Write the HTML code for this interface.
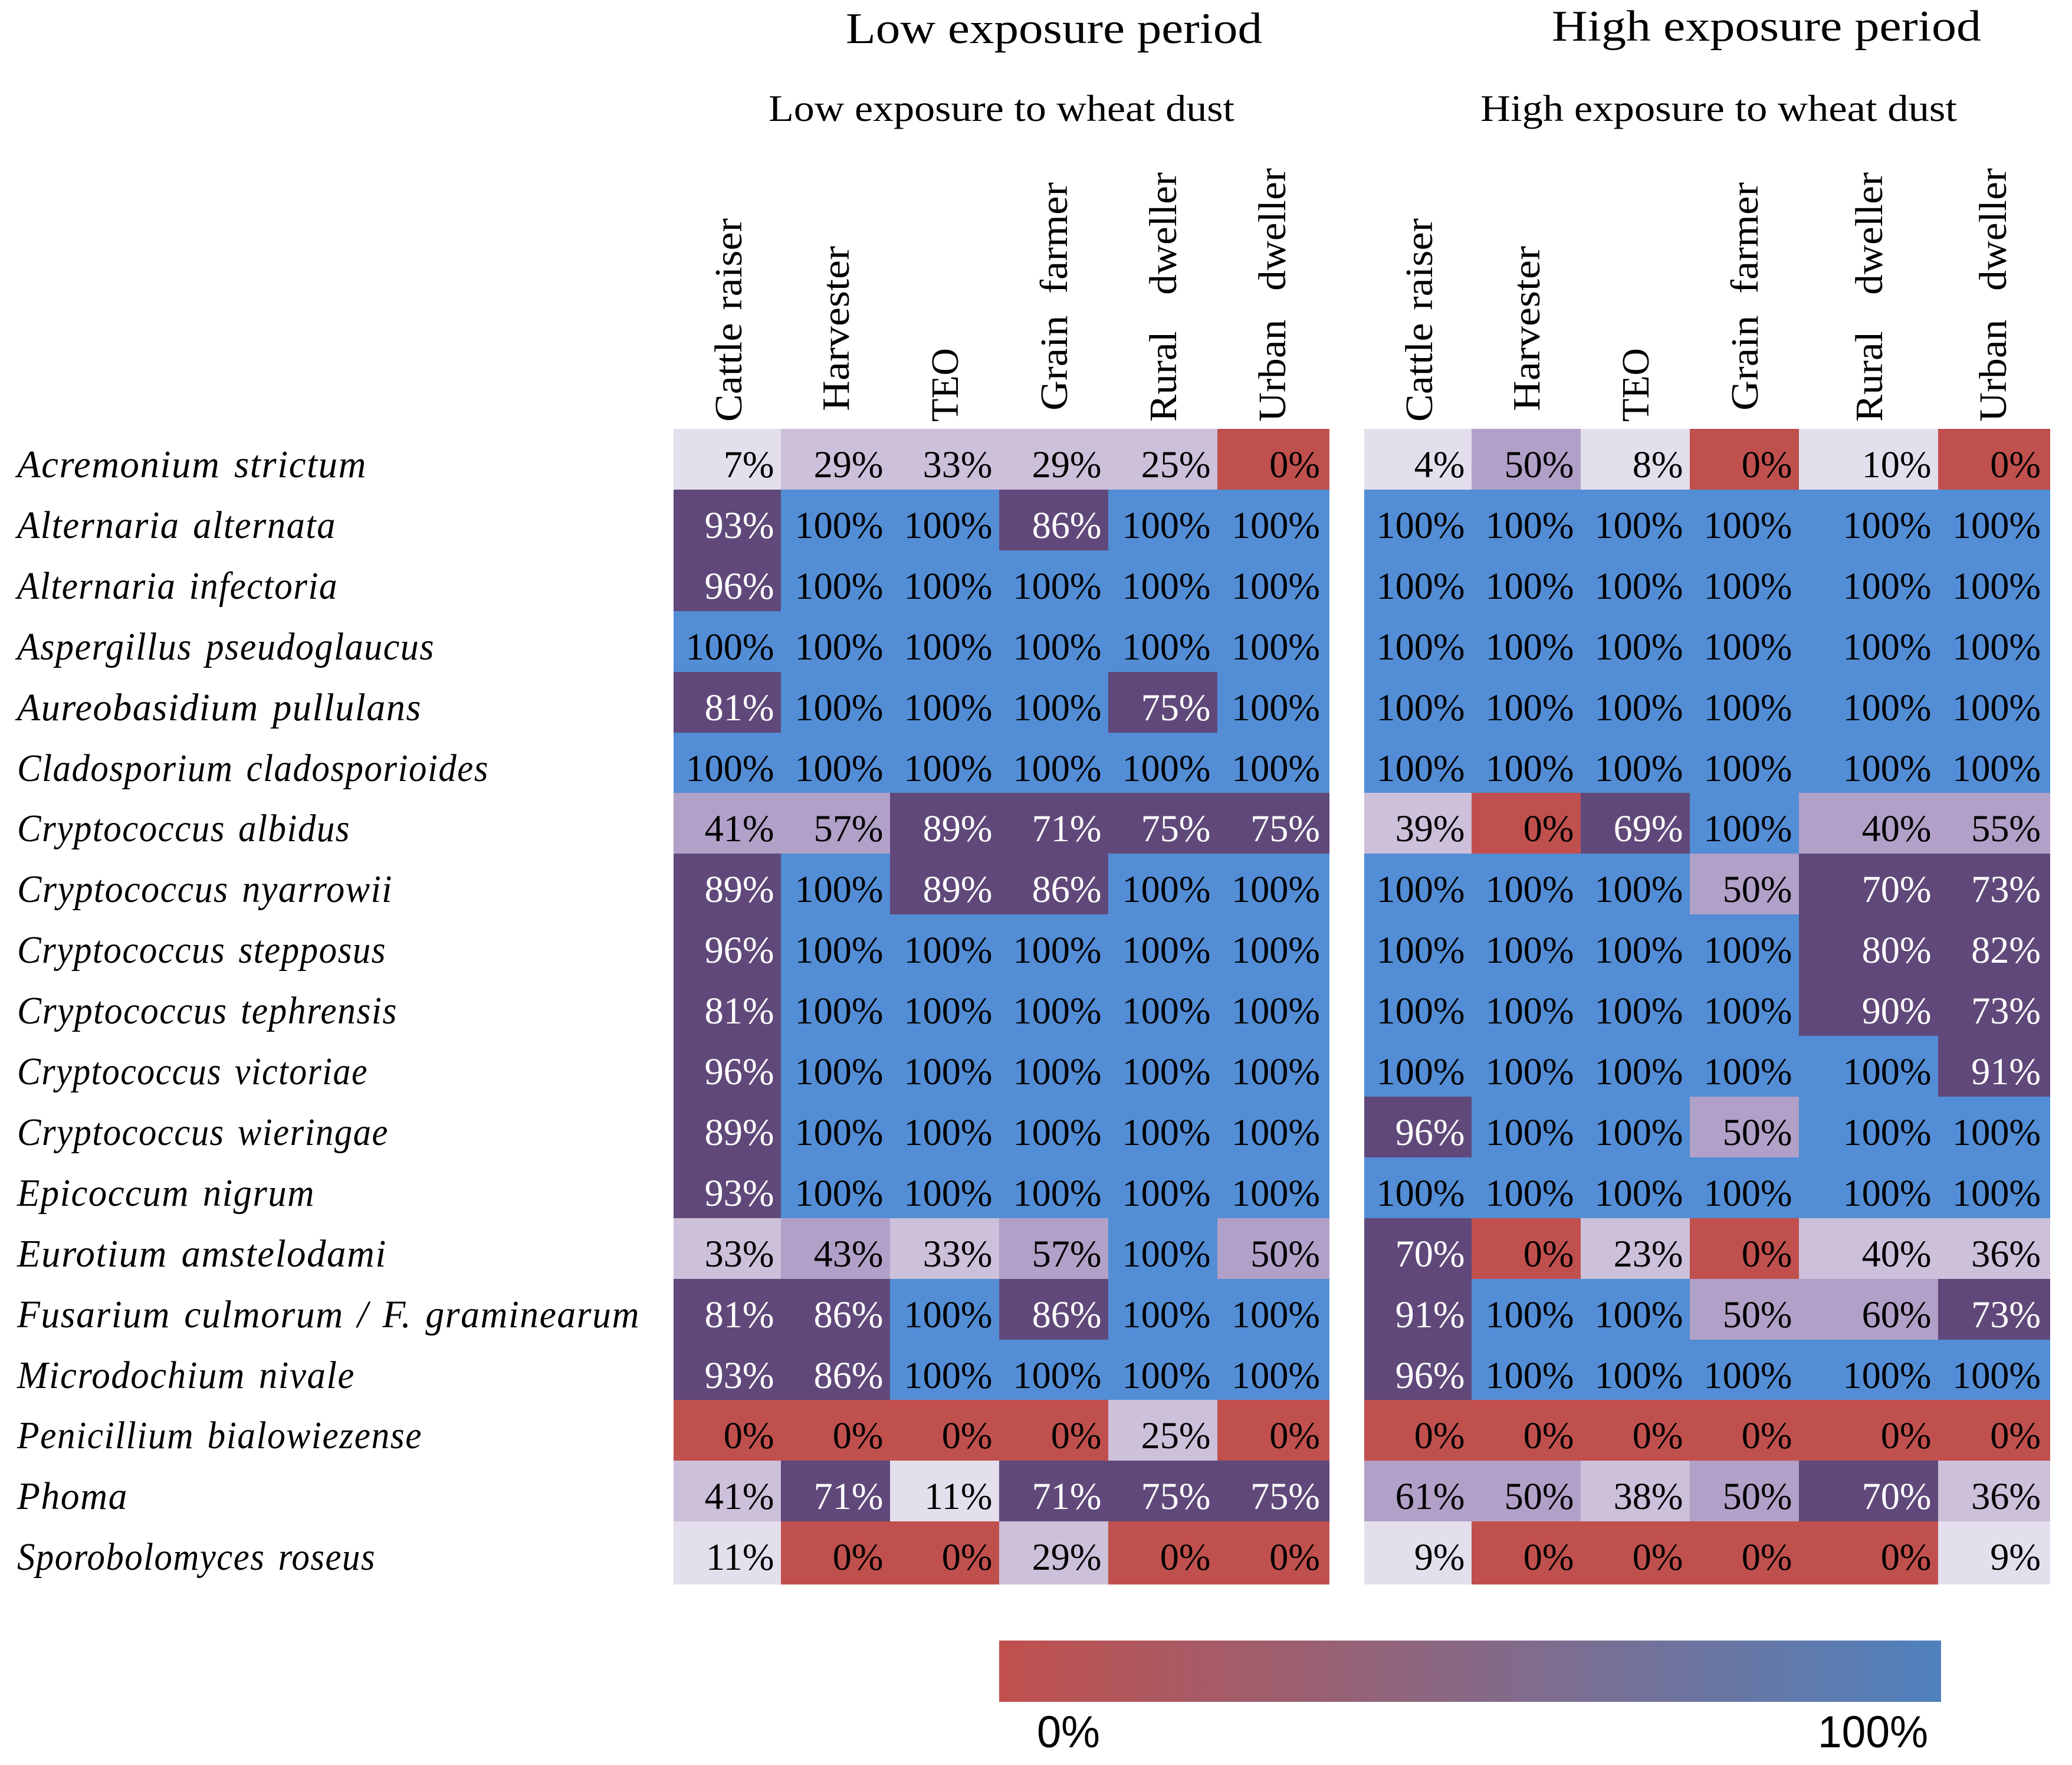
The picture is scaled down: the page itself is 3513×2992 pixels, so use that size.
<!DOCTYPE html>
<html lang="en">
<head>
<meta charset="utf-8">
<title>Fungal species prevalence heatmap</title>
<style>
html,body{margin:0;padding:0;background:#fff;}
svg{display:block;}
text{font-family:"Liberation Serif",serif;fill:#000;}
.row-label{font-style:italic;font-size:66px;}
.bar-label{font-family:"Liberation Sans",sans-serif;font-size:76px;}
</style>
</head>
<body>
<svg id="chart" xmlns="http://www.w3.org/2000/svg" width="3513" height="2992" viewBox="0 0 3513 2992">
  <defs>
    <linearGradient id="scale-gradient" x1="0" x2="1" y1="0" y2="0">
      <stop offset="0" stop-color="#C0504D"/>
      <stop offset="1" stop-color="#4F81BD"/>
    </linearGradient>
  </defs>
  <rect x="0" y="0" width="3513" height="2992" fill="#ffffff"/>
  <text x="1434" y="73" font-size="74" textLength="706" lengthAdjust="spacingAndGlyphs">Low exposure period</text>
  <text x="2631" y="69" font-size="74" textLength="728" lengthAdjust="spacingAndGlyphs">High exposure period</text>
  <text x="1303" y="205" font-size="64" textLength="790" lengthAdjust="spacingAndGlyphs">Low exposure to wheat dust</text>
  <text x="2510" y="205" font-size="64" textLength="808" lengthAdjust="spacingAndGlyphs">High exposure to wheat dust</text>
  <g id="headers"></g>
  <g id="row-labels"></g>
  <g id="cells"></g>
  <g id="values"></g>
  <rect x="1694" y="2781" width="1597" height="104" fill="url(#scale-gradient)"/>
  <text class="bar-label" x="1758" y="2962" textLength="107" lengthAdjust="spacingAndGlyphs">0%</text>
  <text class="bar-label" x="3082" y="2962" textLength="187" lengthAdjust="spacingAndGlyphs">100%</text>
</svg>
<script>
const species = [
  'Acremonium strictum','Alternaria alternata','Alternaria infectoria','Aspergillus pseudoglaucus',
  'Aureobasidium pullulans','Cladosporium cladosporioides','Cryptococcus albidus','Cryptococcus nyarrowii',
  'Cryptococcus stepposus','Cryptococcus tephrensis','Cryptococcus victoriae','Cryptococcus wieringae',
  'Epicoccum nigrum','Eurotium amstelodami','Fusarium culmorum / F. graminearum','Microdochium nivale',
  'Penicillium bialowiezense','Phoma','Sporobolomyces roseus'
];
const occupations = ['Cattle raiser','Harvester','TEO','Grain farmer','Rural dweller','Urban dweller'];
const lowExposure = [
  [7,29,33,29,25,0],
  [93,100,100,86,100,100],
  [96,100,100,100,100,100],
  [100,100,100,100,100,100],
  [81,100,100,100,75,100],
  [100,100,100,100,100,100],
  [41,57,89,71,75,75],
  [89,100,89,86,100,100],
  [96,100,100,100,100,100],
  [81,100,100,100,100,100],
  [96,100,100,100,100,100],
  [89,100,100,100,100,100],
  [93,100,100,100,100,100],
  [33,43,33,57,100,50],
  [81,86,100,86,100,100],
  [93,86,100,100,100,100],
  [0,0,0,0,25,0],
  [41,71,11,71,75,75],
  [11,0,0,29,0,0]
];
const highExposure = [
  [4,50,8,0,10,0],
  [100,100,100,100,100,100],
  [100,100,100,100,100,100],
  [100,100,100,100,100,100],
  [100,100,100,100,100,100],
  [100,100,100,100,100,100],
  [39,0,69,100,40,55],
  [100,100,100,50,70,73],
  [100,100,100,100,80,82],
  [100,100,100,100,90,73],
  [100,100,100,100,100,91],
  [96,100,100,50,100,100],
  [100,100,100,100,100,100],
  [70,0,23,0,40,36],
  [91,100,100,50,60,73],
  [96,100,100,100,100,100],
  [0,0,0,0,0,0],
  [61,50,38,50,70,36],
  [9,0,0,0,0,9]
];

/* Layout: axis functions and text fitting only. */
const SVG_NS = 'http://www.w3.org/2000/svg';
const ROW_TOP = 727, ROW_STEP = 102.9, LAST_ROW_EXTRA = 4, BASELINE = 82;
function rowTop(r){ return Math.round(ROW_TOP + ROW_STEP * r); }
function rowBottom(r){ return r === species.length - 1 ? rowTop(r + 1) + LAST_ROW_EXTRA : rowTop(r + 1); }
function columnWidth(panel, c){
  if (c === 0) return 182;
  if (c === 5) return 190;
  if (panel === 'high' && c === 4) return 236;
  return 185;
}
function columnLeft(panel, c){
  let x = panel === 'low' ? 1142 : 2313;
  for (let i = 0; i < c; i++) x += columnWidth(panel, i);
  return x;
}
function valueRight(panel, c){
  return columnLeft(panel, c) + columnWidth(panel, c) - (c === 5 ? 16 : 11.5);
}
function headerBaseline(panel, c){
  return columnLeft(panel, c) + (panel === 'high' && c === 4 ? 141 : 115);
}
const headerBottom = {'Cattle raiser':715,'Harvester':697,'TEO':715,'Grain farmer':696,'Rural dweller':715,'Urban dweller':715};
const headerLength = {'Cattle raiser':345,'Harvester':280,'TEO':125,'Grain farmer':387,'Rural dweller':423,'Urban dweller':430};
const headerGap = {'Cattle raiser':4,'Harvester':0,'TEO':0,'Grain farmer':18,'Rural dweller':42,'Urban dweller':30};
const labelFitWidth = {
  'Acremonium strictum':593,'Alternaria alternata':541,'Alternaria infectoria':544,'Aspergillus pseudoglaucus':708,
  'Aureobasidium pullulans':686,'Cladosporium cladosporioides':800,'Cryptococcus albidus':565,'Cryptococcus nyarrowii':637,
  'Cryptococcus stepposus':626,'Cryptococcus tephrensis':645,'Cryptococcus victoriae':595,'Cryptococcus wieringae':630,
  'Epicoccum nigrum':505,'Eurotium amstelodami':627,'Fusarium culmorum / F. graminearum':1056,'Microdochium nivale':573,
  'Penicillium bialowiezense':687,'Phoma':188,'Sporobolomyces roseus':608
};

/* Colour scale: discrete classes from the value. */
function mediumOverride(panel, r, c){
  return species[r] === 'Cryptococcus albidus' &&
    ((panel === 'low' && c === 0) || (panel === 'high' && c === 4));
}
function cellColor(v, panel, r, c){
  if (v >= 100) return '#538DD5';
  if (v <= 0) return '#C0504D';
  if (v >= 69) return '#60497A';
  if (v >= 43 || mediumOverride(panel, r, c)) return '#B1A0C7';
  if (v >= 15) return '#CCC0DA';
  return '#E4DFEC';
}
function textColor(v){ return (v >= 69 && v < 100) ? '#ffffff' : '#000000'; }

function svgEl(tag){ return document.createElementNS(SVG_NS, tag); }

const cellsGroup = document.getElementById('cells');
const valuesGroup = document.getElementById('values');
const headersGroup = document.getElementById('headers');
const labelsGroup = document.getElementById('row-labels');

species.forEach(function(name, r){
  const label = svgEl('text');
  
  
  label.setAttribute('class', 'row-label');
  label.setAttribute('x', 29);
  label.setAttribute('y', rowTop(r) + BASELINE);
  label.setAttribute('style', 'letter-spacing:1.6px;word-spacing:6px');
  label.setAttribute('textLength', labelFitWidth[name]);
  label.setAttribute('lengthAdjust', 'spacingAndGlyphs');
  label.textContent = name;
  labelsGroup.appendChild(label);
});

function drawPanel(panel, matrix){
  occupations.forEach(function(name, c){
    const x = headerBaseline(panel, c);
    const y = headerBottom[name];
    const head = svgEl('text');
    
    
    head.setAttribute('transform', 'translate(' + x + ' ' + y + ') rotate(-90)');
    head.setAttribute('font-size', 66);
    head.setAttribute('style', 'word-spacing:' + headerGap[name] + 'px');
    head.setAttribute('textLength', headerLength[name]);
    head.setAttribute('lengthAdjust', 'spacingAndGlyphs');
    head.textContent = name;
    headersGroup.appendChild(head);
  });
  matrix.forEach(function(row, r){
    row.forEach(function(v, c){
      const left = columnLeft(panel, c);
      const cell = svgEl('rect');
      
      
      cell.setAttribute('x', left);
      cell.setAttribute('y', rowTop(r));
      cell.setAttribute('width', columnWidth(panel, c));
      cell.setAttribute('height', rowBottom(r) - rowTop(r));
      cell.setAttribute('fill', cellColor(v, panel, r, c));
      cell.setAttribute('shape-rendering', 'crispEdges');
      cellsGroup.appendChild(cell);

      const txt = svgEl('text');
      
      
      txt.setAttribute('transform', 'translate(' + valueRight(panel, c) + ' ' + (rowTop(r) + BASELINE) + ') scale(0.99 1)');
      txt.setAttribute('text-anchor', 'end');
      txt.setAttribute('font-size', 65);
      txt.setAttribute('style', 'fill:' + textColor(v));
      txt.textContent = v + '%';
      valuesGroup.appendChild(txt);
    });
  });
}
drawPanel('low', lowExposure);
drawPanel('high', highExposure);
</script>
</body>
</html>
